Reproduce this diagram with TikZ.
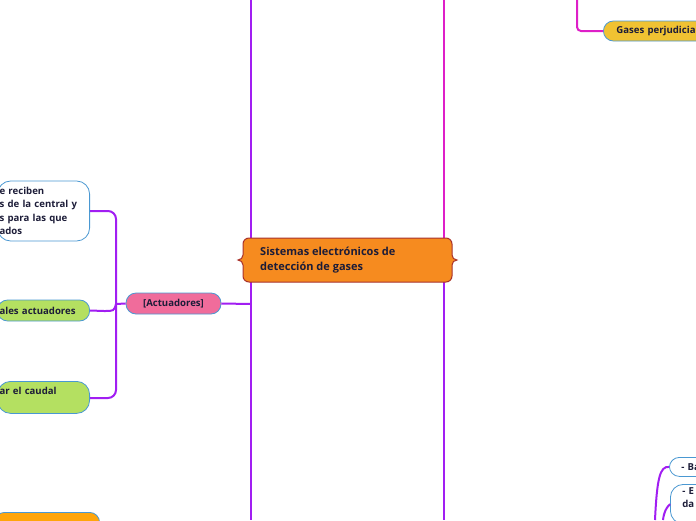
\documentclass[tikz,border=0pt]{standalone}
\usepackage{fontspec}
\setmainfont{Open Sans}
\usetikzlibrary{positioning}
\definecolor{linkpurple}{HTML}{A11EF2}
\definecolor{linkmagenta}{HTML}{DE1FC8}
\definecolor{boxblue}{HTML}{4A98D2}
\definecolor{ink}{HTML}{1C1C38}
\definecolor{mainorange}{HTML}{F68B1F}
\definecolor{mainborder}{HTML}{A8322C}
\definecolor{actpink}{HTML}{F06C9B}
\definecolor{leafgreen}{HTML}{B4E061}
\definecolor{gasyellow}{HTML}{F0C232}
\definecolor{noteorange}{HTML}{FFA50A}
\tikzset{
  purplelink/.style={draw=linkpurple, line width=2pt},
  magentalink/.style={draw=linkmagenta, line width=2pt},
  topic/.style={draw=boxblue, line width=0.8pt, rounded corners=10pt, text=ink,
    font=\bfseries\fontsize{9.6}{13.3}\selectfont, align=left, inner ysep=3pt},
}
\begin{document}
\begin{tikzpicture}[x=1pt,y=-1pt]
\useasboundingbox (0,0) rectangle (696,520);
\clip (0,0) rectangle (696,520);
\coordinate (lefttop) at (251,0);
\coordinate (leftbot) at (251,520);
\coordinate (leftjoin) at (251,304);
\coordinate (righttop) at (444,0);
\coordinate (rightmid) at (444,260);
\coordinate (rightbot) at (444,520);
\coordinate (gastop) at (577,0);
\coordinate (brA) at (655,520);
\coordinate (brB) at (663,520);
\draw[purplelink] (lefttop) -- (leftbot);
\draw[magentalink] (righttop) -- (rightmid);
\draw[purplelink] (rightmid) -- (rightbot);
% central topic
\draw[fill=mainorange, draw=mainborder, line width=1pt]
  (249,238) -- (446,238) to[out=0,in=90] (452,244) -- (452,255)
  to[out=-90,in=180] (457,260) to[out=180,in=90] (452,265) -- (452,276)
  to[out=-90,in=0] (446,282) -- (249,282) to[out=180,in=-90] (243,276) -- (243,265)
  to[out=90,in=0] (238,260) to[out=0,in=-90] (243,255) -- (243,244)
  to[out=90,in=180] (249,238) -- cycle;
\node[anchor=west, align=left, inner sep=0pt, text=ink,
  font=\bfseries\fontsize{11}{15}\selectfont] (main) at (260,260.5)
  {Sistemas electrónicos de\\detección de gases};
% actuadores
\node[topic, fill=actpink, rounded corners=10pt, minimum width=95pt, minimum height=21pt,
  align=center] (act) at (173.5,303.5) {[Actuadores]};
\draw[purplelink] (act.east) -- (leftjoin);
\node[topic, fill=white, rounded corners=13pt, anchor=east, text width=88pt,
  inner xsep=2pt, minimum height=60pt] (recv) at (90,211)
  {e reciben\\s de la central y\\s para las que\\ados};
\node[topic, fill=leafgreen, anchor=east, text width=88pt, inner xsep=2pt,
  minimum height=21pt] (main2) at (90,310.5) {ales actuadores};
\node[topic, fill=leafgreen, rounded corners=13pt, anchor=north east, text width=88pt,
  inner xsep=2pt, minimum height=32pt] (flow) at (90,381) {ar el caudal\\~};
\node[topic, fill=noteorange, anchor=north east, text width=95pt, inner xsep=5pt,
  minimum height=30pt] (note) at (100,512) {~};
\coordinate (actjoin) at (116,304);
\draw[purplelink, rounded corners=8pt] (recv.east) -| (actjoin) |- (flow.east |- 0,398);
\draw[purplelink] (act.west) -- (actjoin);
\draw[purplelink] (actjoin) .. controls (114,311) .. (104,311) -- (main2.east);
% top right
\node[topic, fill=gasyellow, anchor=west, text width=150pt, inner xsep=13pt,
  minimum height=20pt] (gases) at (603,31) {Gases perjudiciales};
\draw[magentalink, rounded corners=4pt] (gastop) |- (gases.west);
% bottom right
\node[topic, fill=white, anchor=north west, text width=50pt, inner xsep=12pt,
  minimum height=19pt] (ba) at (669,457) {- Ba};
\node[topic, fill=white, rounded corners=13pt, anchor=north west, text width=50pt,
  inner xsep=12pt] (ee) at (670,484) {- E\\da\\~};
\draw[purplelink] (brA) .. controls (657,478) and (660,466) .. (ba.west);
\draw[purplelink] (brB) .. controls (664,512) and (666,508) .. (ee.west);
\end{tikzpicture}
\end{document}
